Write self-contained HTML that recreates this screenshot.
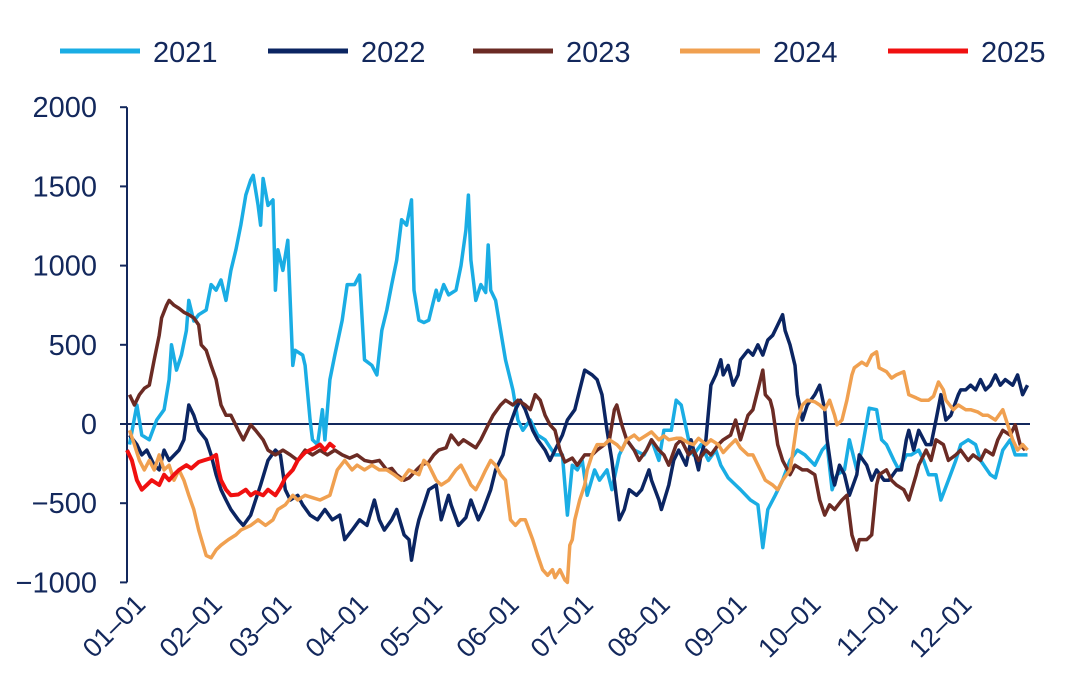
<!DOCTYPE html>
<html><head><meta charset="utf-8"><style>
html,body{margin:0;padding:0;background:#fff;}
svg{display:block;font-family:"Liberation Sans",sans-serif;}
</style></head><body>
<svg id="chart" width="1080" height="699" viewBox="0 0 1080 699"></svg>
<script>
const yTicks=[2000,1500,1000,500,0,-500,-1000];
const yTickLabels=["2000","1500","1000","500","0","\u2212500","\u22121000"];
const monthStarts=[0,31,59,90,120,151,181,212,243,273,304,334];
const monthLabels=["01\u201301","02\u201301","03\u201301","04\u201301","05\u201301","06\u201301","07\u201301","08\u201301","09\u201301","10\u201301","11\u201301","12\u201301"];
const seriesNames=["2021","2022","2023","2024","2025"];
const seriesColors=["#1AADE4","#0B2562","#6B2B24","#F0A050","#F01010"];

const days2021=[1,4,6,9,12,15,17,18,20,22,24,25,27,29,32,34,36,38,40,42,44,46,48,50,51,53,54,55,57,59,60,61,63,65,67,68,71,72,74,75,77,79,80,82,84,87,89,92,94,96,99,101,103,105,107,109,111,113,115,116,118,120,122,123,125,126,128,130,133,135,137,138,139,141,143,145,146,147,149,151,153,156,158,160,163,166,169,173,176,178,180,182,184,186,189,191,194,196,199,202,205,209,212,215,217,220,222,224,227,229,232,235,238,240,243,246,248,252,255,257,259,262,265,268,271,274,278,281,283,285,287,290,292,295,297,300,303,305,307,310,312,315,317,320,322,324,327,329,332,335,337,340,343,345,349,351,354,357,359,362,364];
const vals2021=[-130,120,-70,-100,25,90,280,500,340,435,590,780,650,690,720,880,845,910,780,970,1100,1255,1445,1540,1570,1380,1255,1550,1380,1415,845,1100,970,1160,370,465,435,370,25,-100,-130,90,-100,280,435,655,880,880,940,405,370,310,590,720,880,1035,1290,1255,1415,845,655,640,655,720,845,780,880,815,845,1000,1225,1445,1035,780,880,830,1130,845,780,590,405,215,25,-40,25,-70,-100,-195,-195,-575,-260,-290,-230,-450,-290,-355,-290,-415,-195,-100,-165,-195,-100,-230,-40,-40,150,120,-100,-195,-130,-230,-165,-260,-340,-385,-415,-480,-510,-780,-540,-450,-355,-230,-165,-195,-260,-165,-130,-415,-320,-290,-100,-290,-165,100,90,-100,-130,-230,-290,-195,-195,-165,-230,-320,-320,-480,-355,-230,-130,-100,-130,-230,-320,-340,-165,-100,-195,-195,-195];

const days2022=[1,4,6,8,11,13,15,17,21,23,25,27,29,32,34,36,38,40,42,45,47,50,52,54,57,60,62,64,66,69,71,74,77,80,83,86,88,91,94,97,100,102,104,107,109,112,114,115,117,118,120,122,125,127,130,131,134,137,139,142,144,147,149,152,154,157,159,161,164,166,169,171,173,176,178,181,183,185,188,190,192,194,196,198,199,201,203,206,208,211,212,215,216,219,221,223,226,228,231,232,234,236,238,240,241,243,245,247,248,251,253,255,257,259,261,263,265,266,268,270,271,273,275,278,280,282,283,285,286,288,290,292,295,296,299,301,303,306,308,311,313,315,316,318,320,323,325,327,329,331,333,336,337,339,341,343,345,347,349,351,353,355,358,360,362,364];
const vals2022=[-70,-130,-195,-165,-260,-290,-165,-230,-165,-100,120,55,-40,-100,-195,-320,-415,-480,-540,-605,-640,-575,-480,-385,-230,-165,-195,-415,-480,-450,-510,-575,-605,-540,-605,-575,-730,-670,-605,-640,-480,-605,-670,-605,-540,-700,-730,-860,-670,-605,-510,-415,-385,-605,-450,-510,-640,-590,-480,-605,-540,-415,-290,-195,-40,90,150,90,-40,-100,-165,-230,-165,-70,25,90,215,340,310,280,185,-40,-230,-480,-605,-540,-415,-450,-415,-290,-355,-480,-540,-385,-230,-165,-260,-100,-290,-195,-100,245,310,405,310,370,245,310,405,465,435,500,435,530,560,625,690,590,500,370,185,25,120,185,245,90,-100,-320,-385,-260,-320,-450,-320,-195,-260,-355,-290,-355,-355,-290,-290,-100,-40,-165,-40,-130,-130,25,185,25,55,185,215,215,245,215,280,215,245,310,245,280,245,310,185,245];

const days2023=[1,3,5,7,9,11,13,14,16,17,19,21,23,25,27,29,30,32,34,36,38,40,42,45,47,50,52,55,57,60,63,66,69,72,75,78,81,84,87,90,93,96,99,102,105,107,109,112,114,117,119,122,124,126,129,131,134,136,139,141,143,146,148,151,153,156,158,161,163,165,167,169,171,173,175,177,180,182,185,188,190,193,195,197,198,200,202,205,207,210,212,215,217,219,222,224,227,229,231,234,236,239,241,244,246,248,251,253,255,257,258,260,261,263,265,267,268,270,273,275,278,280,282,284,286,289,291,293,295,296,299,301,303,304,307,309,311,314,316,319,320,323,325,327,330,332,335,337,340,342,345,347,350,352,354,357,359,361,363];
const vals2023=[185,120,185,225,245,405,560,670,750,780,750,730,705,690,670,625,500,465,370,280,120,55,55,-40,-100,-5,-40,-100,-165,-195,-165,-195,-230,-165,-195,-165,-195,-165,-195,-215,-195,-230,-240,-230,-290,-280,-320,-355,-340,-290,-260,-240,-195,-165,-150,-70,-130,-100,-130,-150,-100,-5,55,120,150,120,150,120,90,185,150,55,-5,-40,-165,-240,-215,-260,-195,-195,-165,-130,-100,90,120,-5,-100,-165,-230,-165,-100,-165,-195,-260,-130,-100,-195,-165,-230,-165,-195,-130,-100,-70,25,-100,55,90,215,340,185,150,90,-130,-230,-290,-320,-260,-290,-290,-320,-480,-575,-510,-540,-480,-450,-700,-795,-730,-730,-700,-385,-320,-290,-355,-385,-415,-480,-320,-260,-165,-230,-100,-130,-230,-195,-165,-230,-195,-230,-165,-195,-100,-40,-70,-5,-130,-165];

const days2024=[1,3,5,7,9,11,13,15,17,19,21,23,25,27,29,32,34,36,38,41,44,46,50,53,56,59,61,64,67,69,72,75,78,82,85,88,91,93,96,99,102,105,108,111,114,118,120,122,125,127,130,133,135,137,139,141,143,145,147,149,151,153,155,157,159,161,164,166,168,170,172,173,175,177,178,179,180,181,183,185,186,188,190,193,195,198,200,202,205,207,210,212,215,217,219,222,224,227,229,231,234,236,239,241,244,246,248,251,253,256,258,261,263,265,268,269,271,273,275,278,280,282,284,286,287,289,291,293,294,297,299,301,303,304,307,309,311,314,316,319,321,324,326,328,330,331,334,336,339,341,344,346,348,351,354,356,358,360,362,364];
const vals2024=[-40,-130,-230,-290,-230,-290,-195,-290,-260,-355,-290,-355,-450,-540,-670,-830,-845,-795,-765,-730,-700,-670,-640,-605,-640,-605,-540,-510,-450,-480,-450,-465,-480,-450,-290,-230,-290,-260,-290,-260,-290,-290,-320,-355,-290,-320,-230,-260,-355,-385,-355,-290,-260,-320,-385,-415,-355,-290,-230,-260,-320,-355,-605,-640,-605,-605,-730,-830,-920,-955,-920,-970,-920,-985,-1000,-765,-730,-605,-480,-385,-290,-195,-130,-130,-100,-130,-165,-100,-70,-100,-70,-50,-100,-75,-100,-90,-90,-120,-130,-90,-130,-100,-130,-180,-130,-100,-150,-195,-195,-290,-355,-385,-415,-355,-290,-195,25,120,150,140,120,90,150,55,-5,25,150,310,355,390,370,435,455,355,330,290,310,330,185,165,150,150,175,265,215,150,90,120,90,90,75,55,55,25,90,-5,-100,-165,-130,-165];

const days2025=[0,2,4,6,8,10,13,15,17,19,21,24,26,29,31,34,36,37,38,40,42,45,48,50,52,55,57,60,62,64,67,69,71,72,74,76,78,80,82,84];
const vals2025=[-165,-230,-355,-415,-385,-355,-385,-320,-355,-320,-290,-260,-280,-240,-230,-215,-195,-290,-355,-415,-450,-445,-415,-450,-430,-450,-415,-450,-400,-340,-290,-230,-195,-180,-165,-150,-130,-165,-125,-150];

const X0=127,X1=1030,Y0=424,YPER=79.2/500;
const xScale=d=>X0+d*(X1-X0)/365;
const yScale=v=>Y0-v*YPER;
const NS="http://www.w3.org/2000/svg";
const svg=document.getElementById("chart");
function mk(tag,attrs,parent){const e=document.createElementNS(NS,tag);for(const k in attrs)e.setAttribute(k,attrs[k]);(parent||svg).appendChild(e);return e;}
const navy="#13285C";

// legend
const legX=[60,268,473,680,888];
const legend=mk("g",{});


seriesNames.forEach((n,i)=>{
  const g=mk("g",{},legend);
  
  
  mk("line",{x1:legX[i],x2:legX[i]+80,y1:51,y2:51,stroke:seriesColors[i],"stroke-width":5},g);
  const t=mk("text",{x:legX[i]+93,y:62,"font-size":29,fill:navy},g);
  t.textContent=n;
});

// y axis
const yAxis=mk("g",{});


mk("line",{x1:X0,x2:X0,y1:yScale(2000),y2:yScale(-1000),stroke:navy,"stroke-width":2},yAxis);
yTicks.forEach((v,i)=>{
  mk("line",{x1:X0-7,x2:X0,y1:yScale(v),y2:yScale(v),stroke:navy,"stroke-width":2},yAxis);
  const t=mk("text",{x:97,y:yScale(v)+10,"font-size":29,fill:navy,"text-anchor":"end"},yAxis);
  
  
  t.textContent=yTickLabels[i];
});

// x axis (zero line)
const xAxis=mk("g",{});


mk("line",{x1:X0,x2:X1,y1:Y0,y2:Y0,stroke:navy,"stroke-width":2},xAxis);
monthStarts.forEach((d,i)=>{
  const x=xScale(d)+20, y=606;
  const t=mk("text",{x:x,y:y,"font-size":27,fill:navy,"text-anchor":"end",transform:`rotate(-45 ${x} ${y})`},xAxis);
  
  
  t.textContent=monthLabels[i];
});

// series
const allDays=[days2021,days2022,days2023,days2024,days2025];
const allVals=[vals2021,vals2022,vals2023,vals2024,vals2025];
allDays.forEach((ds,i)=>{
  const vs=allVals[i];
  const pts=ds.map((d,j)=>xScale(d).toFixed(1)+","+yScale(vs[j]).toFixed(1)).join(" ");
  const p=mk("polyline",{points:pts,fill:"none",stroke:seriesColors[i],"stroke-width":i===4?4:3.5,"stroke-linejoin":"round"});
  
  
});
</script>
</body></html>
